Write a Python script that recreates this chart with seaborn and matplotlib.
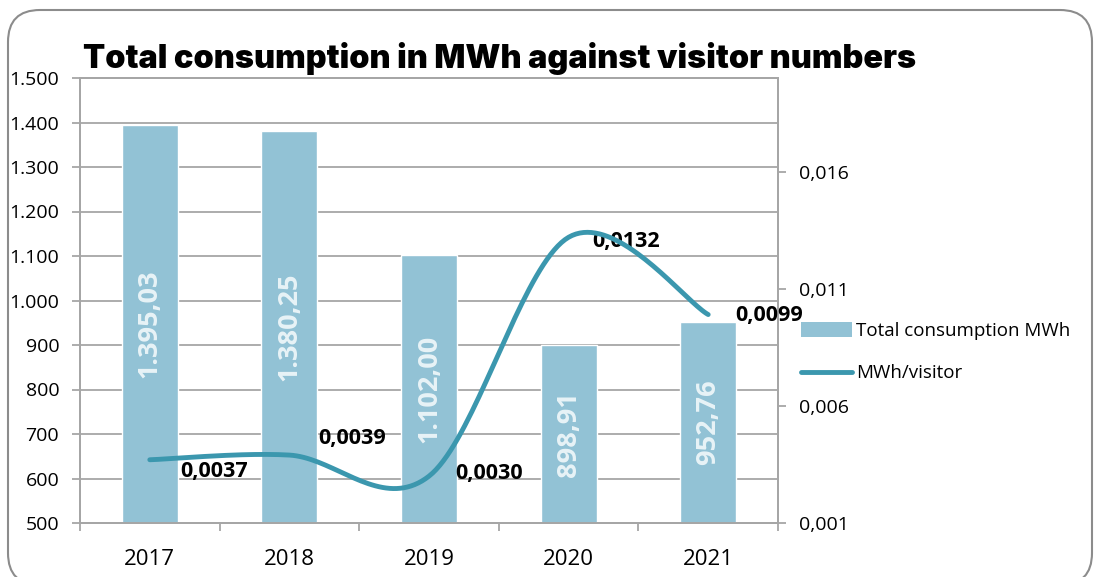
import numpy as np
import matplotlib
matplotlib.use('Agg')
import matplotlib.pyplot as plt
import seaborn as sns
from matplotlib.patches import FancyBboxPatch, Patch
from matplotlib.lines import Line2D
from matplotlib.transforms import IdentityTransform
from matplotlib.ticker import FixedLocator

# ---- data ----
years = ['2017', '2018', '2019', '2020', '2021']
consumption = [1395.03, 1380.25, 1102.00, 898.91, 952.76]
per_visitor = [0.0037, 0.0039, 0.0030, 0.0132, 0.0099]
bar_labels = ['1.395,03', '1.380,25', '1.102,00', '898,91', '952,76']
line_labels = ['0,0037', '0,0039', '0,0030', '0,0132', '0,0099']
left_ticks = [500, 600, 700, 800, 900, 1000, 1100, 1200, 1300, 1400, 1500]
left_tick_labels = ['500', '600', '700', '800', '900', '1.000', '1.100', '1.200', '1.300', '1.400', '1.500']
right_ticks = [0.001, 0.006, 0.011, 0.016]
right_tick_labels = ['0,001', '0,006', '0,011', '0,016']

# label offsets (pixels) for the line data labels
label_dx = [30, 29, 26, 24, 27]
label_dy = [-12, 17, 3, -4, -1]

BAR = '#92C2D5'
LINE = '#3B97AE'
GRID = '#A6A6A6'

sns.set_theme(style='white')
plt.rcParams['font.family'] = ['Open Sans', 'DejaVu Sans']

fig = plt.figure(figsize=(10.99, 5.77), dpi=100)

# rounded border
border = FancyBboxPatch((8, -8), 1084, 575, boxstyle='round,pad=0,rounding_size=32',
                        transform=IdentityTransform(), facecolor='none',
                        edgecolor='#8C8C8C', lw=1.5, zorder=-1)
fig.patches.append(border)

ax = fig.add_axes([80 / 1099, 54 / 577, 698 / 1099, 445 / 577])
ax.set_facecolor('none')
sns.barplot(x=years, y=consumption, ax=ax, color=BAR, width=0.4, saturation=1, zorder=2)
ax.set_ylim(500, 1500)
ax.set_xlim(-0.5, 4.5)
ax.yaxis.set_major_locator(FixedLocator(left_ticks))
ax.set_yticklabels(left_tick_labels)
ax.yaxis.grid(True, color=GRID, lw=1.3)
ax.set_axisbelow(True)
ax.set_xlabel('')
ax.set_ylabel('')
for s in ['left', 'bottom', 'top', 'right']:
    ax.spines[s].set_color(GRID)
    ax.spines[s].set_linewidth(1.3)
ax.tick_params(axis='y', which='major', direction='out', length=6, width=1.3, color=GRID,
               labelsize=14, labelcolor='black', pad=9, left=True)
ax.xaxis.set_minor_locator(FixedLocator([-0.5, 0.5, 1.5, 2.5, 3.5, 4.5]))
ax.tick_params(axis='x', which='major', length=0, labelsize=16, labelcolor='black', pad=19)
ax.tick_params(axis='x', which='minor', direction='out', length=6, width=1.3, color=GRID, bottom=True)

for i, (v, lab) in enumerate(zip(consumption, bar_labels)):
    ax.text(i, (500 + v) / 2, lab, rotation=90, ha='center', va='center',
            color='#E8F3F7', fontsize=19.5, fontweight='bold', zorder=3)

ax2 = ax.twinx()
ax2.set_ylim(0.001, 0.020)
ax2.yaxis.set_major_locator(FixedLocator(right_ticks))
ax2.set_yticklabels(right_tick_labels)
ax2.tick_params(axis='y', direction='out', length=6, width=1.3, color=GRID,
                labelsize=14, labelcolor='black', pad=9, right=True)
for s in ['left', 'bottom', 'top', 'right']:
    ax2.spines[s].set_color(GRID)
    ax2.spines[s].set_linewidth(1.3)
ax2.grid(False)

# smoothed line (Catmull-Rom / Bezier like spreadsheet smoothing)
xs = np.arange(len(per_visitor), dtype=float)
ys = np.array(per_visitor)
P = np.column_stack([xs, ys])
Pp = np.vstack([P[0], P, P[-1]])
curve = []
t = np.linspace(0, 1, 40)[:, None]
for k in range(len(P) - 1):
    p0, p1, p2, p3 = Pp[k], Pp[k + 1], Pp[k + 2], Pp[k + 3]
    b1 = p1 + (p2 - p0) / 6
    b2 = p2 - (p3 - p1) / 6
    seg = (1 - t) ** 3 * p1 + 3 * (1 - t) ** 2 * t * b1 + 3 * (1 - t) * t ** 2 * b2 + t ** 3 * p2
    curve.append(seg)
curve = np.vstack(curve)
ax2.plot(curve[:, 0], curve[:, 1], color=LINE, lw=3.5, solid_capstyle='round', zorder=4)

for i, (v, lab) in enumerate(zip(per_visitor, line_labels)):
    ax2.annotate(lab, (i, v), xytext=(label_dx[i], label_dy[i]), textcoords='offset pixels',
                 ha='left', va='center', fontsize=15.5, fontweight='bold', color='black',
                 annotation_clip=False)

# title
fig.text(83 / 1099, (577 - 68) / 577, 'Total consumption in MWh against visitor numbers',
         ha='left', va='baseline', fontsize=23.35, fontweight='black', color='black',
         family=['Inter', 'DejaVu Sans'])

# legend
handles = [Patch(facecolor=BAR, edgecolor='none'),
           Line2D([0], [0], color=LINE, lw=3.5, solid_capstyle='round')]
leg = fig.legend(handles, ['Total consumption MWh', 'MWh/visitor'], loc='upper left',
                 bbox_to_anchor=(801 / 1099, (577 - 322) / 577), frameon=False,
                 fontsize=13.5, handlelength=2.7, handleheight=0.8, handletextpad=0.25,
                 labelspacing=1.3, borderaxespad=0, borderpad=0)
for txt in leg.get_texts():
    txt.set_color('black')

fig.savefig('out.png', dpi=100)
